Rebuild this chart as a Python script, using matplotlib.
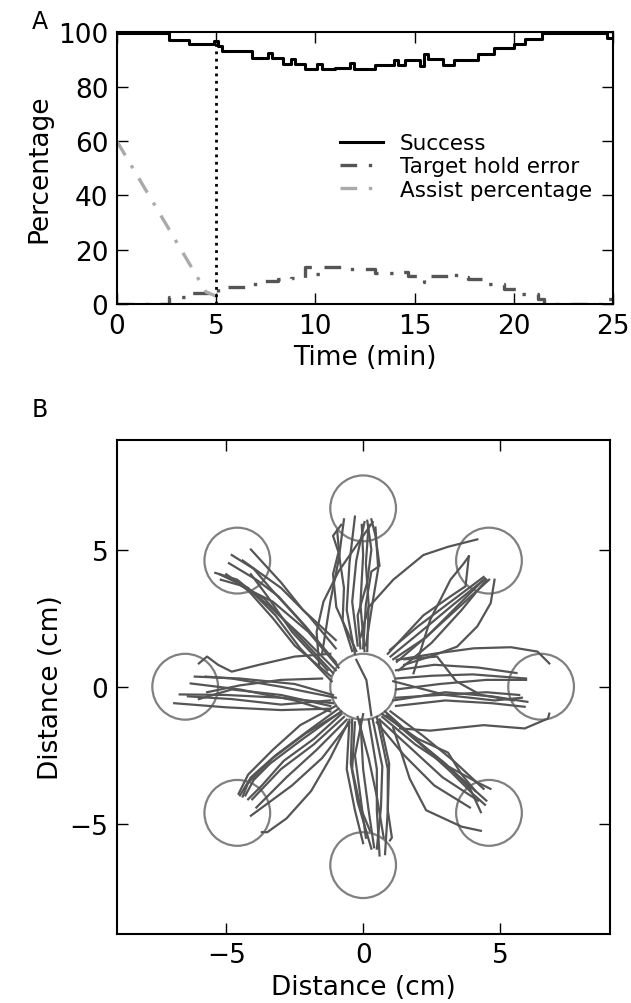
import matplotlib
matplotlib.use('Agg')
import matplotlib.pyplot as plt
from matplotlib.patches import Circle
import numpy as np

# ---- panel A data ----
success_t = [0, 2.65, 3.66, 4.9, 5.1, 5.3, 6.8, 7.6, 7.8, 8.35, 8.75, 8.95,
             9.5, 10.1, 10.35, 11.0, 11.75, 11.95, 13.0, 13.95, 14.15, 14.5,
             15.25, 15.45, 15.65, 16.4, 17.0, 18.2, 19.0, 20.0, 20.55, 21.4,
             24.7, 25]
success_v = [99.5, 97.0, 95.5, 96.6, 94.8, 93.2, 90.4, 92.3, 90.4, 88.3, 90.0,
             88.3, 86.3, 88.3, 86.3, 86.9, 88.7, 86.5, 88.1, 89.8, 88.1, 89.6,
             87.7, 92.0, 90.2, 88.1, 89.8, 92.0, 94.2, 95.7, 97.5, 99.5,
             97.8, 97.8]

hold_t = [0, 2.65, 3.66, 4.9, 5.1, 6.5, 7.33, 8.1, 8.75, 9.47, 9.98, 10.4,
          11.4, 13.0, 14.05, 14.66, 15.47, 15.68, 16.7, 17.1, 17.7, 18.5,
          19.5, 20.36, 21.2, 21.5, 24.6, 25]
hold_v = [0, 2.7, 4.3, 3.7, 6.5, 7.4, 8.6, 9.2, 9.8, 13.5, 11.0, 13.5, 12.9,
          11.4, 11.7, 10.4, 8.0, 10.2, 11.4, 10.0, 9.4, 7.4, 5.5, 3.7, 1.8,
          0.0, 2.0, 2.0]

assist_t = [0, 4.5, 5.0]
assist_v = [60, 4.5, 3.0]

# ---- panel B data: cursor trajectories (cm) ----
traj_up = [
    [(-0.25, 1.3), (-0.98, 2.9), (-1.1, 4.1), (-0.9, 4.9), (-1.1, 5.5), (-0.8, 5.9)],
    [(-0.3, 1.2), (-0.6, 2.8), (-0.5, 4.5), (-0.3, 6.2)],
    [(0.0, 1.4), (0.1, 3.0), (0.3, 4.2), (0.6, 4.4), (0.45, 5.5), (0.3, 6.1)],
    [(0.05, 1.3), (-0.1, 3.0), (0.0, 4.8), (-0.05, 5.9)],
    [(0.1, 1.5), (0.35, 3.1), (0.55, 4.3), (0.45, 5.8)],
    [(-0.2, 1.5), (-0.4, 3.1), (-0.25, 4.6), (0.05, 6.0)],
    [(-1.6, 0.7), (-1.7, 2.0), (-1.45, 3.1), (-0.9, 4.2), (0.0, 5.5), (0.35, 6.0)],
    [(-1.5, 1.2), (-1.2, 3.1), (-0.9, 4.6), (-0.7, 6.1)],
    [(0.15, 1.3), (0.2, 3.0), (0.1, 4.5), (0.2, 5.9)],
    [(-0.1, 1.4), (-0.2, 2.6), (0.15, 3.8), (0.3, 5.0), (0.15, 6.05)],
    [(-0.4, 1.3), (-0.75, 2.4), (-0.7, 3.6), (-0.85, 4.6), (-0.95, 5.7)],
]
traj_upleft = [
    [(-1.0, 0.6), (-2.2, 1.8), (-3.5, 3.0), (-4.6, 3.9), (-5.4, 4.15)],
    [(-1.1, 0.5), (-2.4, 1.9), (-3.6, 3.2), (-4.5, 3.7), (-5.2, 3.9)],
    [(-0.9, 0.7), (-2.0, 2.0), (-3.3, 3.1), (-4.3, 3.6), (-5.0, 4.1)],
    [(-1.0, 0.9), (-2.3, 2.4), (-3.4, 3.6), (-4.0, 4.3), (-4.8, 4.8)],
    [(-1.0, 1.4), (-2.0, 2.6), (-3.0, 3.6), (-4.4, 4.6)],
    [(-1.0, 1.7), (-2.2, 2.8), (-3.0, 3.8), (-4.1, 5.0)],
    [(-1.2, 0.4), (-2.5, 1.5), (-3.3, 2.5), (-4.1, 3.4), (-4.65, 3.9)],
    [(-1.3, 0.6), (-2.6, 2.0), (-3.5, 3.3), (-4.1, 4.1)],
    [(-1.15, 0.2), (-2.3, 1.4), (-3.2, 2.6), (-4.2, 3.6), (-5.25, 4.1)],
    [(-0.95, 0.8), (-2.1, 2.2), (-3.1, 3.3), (-3.9, 3.9), (-4.9, 4.5)],
]
traj_left = [
    [(-1.2, -0.8), (-3.0, -0.85), (-5.0, -0.75), (-6.9, -0.6)],
    [(-1.1, -0.6), (-3.0, -0.4), (-5.0, -0.3), (-6.7, -0.28)],
    [(-1.2, -0.9), (-2.5, -0.5), (-4.5, -0.1), (-6.3, 0.12)],
    [(-1.1, -0.3), (-2.5, 0.1), (-4.5, 0.3), (-6.15, 0.37)],
    [(-1.2, 1.2), (-2.5, 1.1), (-3.8, 0.8), (-4.8, 0.55), (-5.3, 0.8),
     (-5.7, 1.1), (-6.0, 0.85)],
    [(-1.0, -0.4), (-3.0, 0.0), (-4.8, 0.3), (-5.75, 0.37)],
    [(-1.2, -0.7), (-3.0, -0.3), (-4.8, -0.1), (-6.0, -0.45)],
    [(-1.5, 0.3), (-3.0, 0.25), (-4.5, 0.05), (-5.7, -0.2)],
    [(-1.2, -0.5), (-3.0, -0.65), (-4.8, -0.45), (-6.4, -0.35)],
]
traj_downleft = [
    [(-0.9, -0.8), (-2.0, -1.6), (-3.2, -2.5), (-4.1, -3.3), (-4.5, -3.96)],
    [(-0.8, -0.9), (-2.2, -1.9), (-3.4, -2.8), (-4.0, -3.4), (-4.3, -3.96)],
    [(-0.7, -1.1), (-1.8, -2.1), (-3.0, -3.0), (-4.05, -4.1)],
    [(-0.6, -1.2), (-1.7, -2.3), (-2.8, -3.3), (-3.9, -4.4)],
    [(-0.5, -1.3), (-1.5, -2.6), (-2.6, -3.6), (-4.1, -4.7)],
    [(-0.55, -1.3), (-1.2, -2.6), (-1.9, -3.8), (-2.8, -4.8), (-3.5, -5.3), (-3.7, -5.3)],
    [(-1.0, -0.7), (-2.3, -1.4), (-3.3, -2.3), (-4.2, -3.2), (-4.55, -3.9)],
    [(-0.8, -1.0), (-1.8, -1.9), (-2.9, -2.7), (-3.7, -3.6), (-4.2, -4.1)],
    [(-0.85, -0.95), (-2.1, -1.7), (-3.3, -2.6), (-4.2, -3.5), (-4.4, -4.0)],
]
traj_down = [
    [(-0.5, -1.2), (-0.6, -3.0), (-0.3, -4.5), (0.0, -5.7)],
    [(-0.3, -1.3), (-0.4, -3.0), (-0.1, -4.4), (0.25, -5.25)],
    [(-0.1, -1.2), (0.0, -3.0), (0.2, -4.5), (0.4, -5.85)],
    [(0.2, -1.2), (0.5, -3.0), (0.5, -4.5), (0.6, -6.15)],
    [(0.5, -1.1), (0.9, -3.0), (0.9, -4.5), (0.8, -6.1)],
    [(0.6, -1.2), (0.95, -2.8), (0.9, -4.5), (1.05, -5.5), (0.98, -5.6)],
    [(-0.2, -1.1), (0.2, -2.6), (0.5, -4.0), (0.75, -5.5)],
    [(0.0, -1.0), (-0.3, -2.5), (-0.1, -4.0), (0.1, -5.5)],
    [(-0.25, 0.98), (0.12, 0.24), (0.3, -1.04)],
    [(-0.4, -1.2), (-0.45, -2.8), (-0.2, -4.2), (0.3, -5.9)],
    [(0.35, -1.2), (0.7, -2.9), (0.65, -4.4), (0.5, -5.9)],
]
traj_downright = [
    [(0.9, -1.0), (1.9, -1.9), (3.0, -2.8), (3.9, -3.7), (4.3, -4.57)],
    [(0.8, -0.9), (2.0, -2.0), (3.2, -3.0), (4.5, -4.15)],
    [(0.7, -1.1), (1.9, -2.1), (3.1, -2.9), (4.2, -3.5), (4.65, -3.72)],
    [(1.0, -0.9), (2.2, -1.8), (3.3, -2.7), (4.4, -3.72)],
    [(0.6, -1.2), (1.7, -2.2), (2.9, -3.3), (4.2, -4.15)],
    [(1.1, -1.5), (1.7, -3.35), (2.3, -4.5), (3.6, -5.1), (4.3, -5.25)],
    [(0.7, -1.0), (2.0, -1.9), (3.1, -2.4), (3.6, -3.2), (4.1, -3.8)],
    [(0.5, -1.3), (1.5, -2.5), (2.6, -3.6), (3.9, -4.4)],
    [(0.85, -1.05), (2.1, -2.1), (3.2, -3.1), (4.0, -3.9), (4.45, -4.3)],
]
traj_right = [
    [(1.2, 0.3), (2.5, 0.4), (4.0, 0.45), (5.95, 0.3)],
    [(1.2, -0.1), (2.8, 0.1), (4.5, 0.25), (5.95, 0.25)],
    [(1.2, -0.4), (2.8, -0.3), (4.5, -0.2), (5.7, -0.3)],
    [(1.1, -0.5), (3.0, -0.2), (4.7, -0.35), (6.0, -0.55)],
    [(1.2, -0.7), (3.0, -0.5), (4.7, -0.6), (5.9, -0.73)],
    [(1.23, 0.98), (2.7, 1.22), (4.04, 1.4), (5.4, 1.44), (6.37, 1.28), (6.8, 0.85)],
    [(1.35, -1.52), (2.45, -1.6), (4.4, -1.4), (5.9, -1.52), (6.75, -1.16), (6.8, -0.98)],
    [(1.5, 1.0), (2.7, 1.1), (3.4, 0.2), (4.3, -0.3), (5.5, -0.5)],
    [(1.1, 0.2), (3.0, -0.3), (4.8, -0.5), (5.8, -0.4)],
    [(1.2, 0.6), (2.6, 0.8), (4.2, 0.7), (5.6, 0.5)],
]
traj_upright = [
    [(0.98, 1.34), (2.0, 2.2), (3.2, 3.1), (4.4, 4.0)],
    [(1.23, 0.91), (2.4, 1.9), (3.5, 2.9), (4.6, 3.9)],
    [(1.84, 0.49), (2.45, 2.44), (3.19, 3.9), (3.68, 4.5), (3.86, 4.75)],
    [(1.5, 0.8), (2.45, 1.1), (3.43, 1.46), (4.17, 2.2), (4.66, 3.05), (4.8, 3.9)],
    [(-0.1, 1.8), (0.2, 2.9), (1.1, 3.9), (2.2, 4.8), (3.1, 5.1), (4.17, 5.37)],
    [(1.1, 1.0), (2.3, 1.8), (3.4, 2.9), (4.45, 3.95)],
    [(1.3, 0.6), (2.5, 1.6), (3.6, 2.8), (4.5, 3.9)],
    [(0.9, 1.2), (2.2, 2.6), (3.2, 3.3), (3.74, 3.66), (3.86, 4.75)],
    [(1.0, 1.1), (2.1, 2.0), (3.3, 3.0), (4.35, 3.85)],
]

target_angles = [0, 45, 90, 135, 180, 225, 270, 315]
target_dist = 6.5
target_radius = 1.2

fig = plt.figure(figsize=(6.31, 10.04), dpi=100)
ax1 = fig.add_axes([0.185, 0.696, 0.787, 0.271])
ax2 = fig.add_axes([0.185, 0.069, 0.781, 0.492])

# ---- panel A ----
dashdot = (0, (5, 3.5, 1, 3.5))
ax1.step(success_t, success_v, where='post', color='k', lw=2.2, label='Success')
ax1.step(hold_t, hold_v, where='post', color='#555555', lw=2.4,
         ls=dashdot, label='Target hold error')
ax1.plot(assist_t, assist_v, color='#aaaaaa', lw=2.4,
         ls=dashdot, label='Assist percentage')
ax1.axvline(5, ymax=0.97, color='k', ls=':', lw=2)
ax1.set_xlim(0, 25)
ax1.set_ylim(0, 100)
ax1.set_xticks([0, 5, 10, 15, 20, 25])
ax1.set_yticks([0, 20, 40, 60, 80, 100])
ax1.set_xlabel('Time (min)', fontsize=19)
ax1.set_ylabel('Percentage', fontsize=19)
ax1.legend(loc='upper left', bbox_to_anchor=(0.41, 0.70), frameon=False,
           fontsize=15.5, handlelength=2.0, labelspacing=0.15, handletextpad=0.8)

# ---- panel B ----
for group in [traj_up, traj_upleft, traj_left, traj_downleft, traj_down,
              traj_downright, traj_right, traj_upright]:
    for tr in group:
        xy = np.array(tr)
        ax2.plot(xy[:, 0], xy[:, 1], color='#555555', lw=1.6)

for a in target_angles:
    cx = target_dist * np.cos(np.deg2rad(a))
    cy = target_dist * np.sin(np.deg2rad(a))
    ax2.add_patch(Circle((cx, cy), target_radius, fill=False, ec='#808080', lw=1.6))
ax2.add_patch(Circle((0, 0), target_radius, fill=False, ec='#808080', lw=1.6))

ax2.set_xlim(-9, 9)
ax2.set_ylim(-9, 9)
ax2.set_xticks([-5, 0, 5])
ax2.set_yticks([-5, 0, 5])
ax2.set_xlabel('Distance (cm)', fontsize=19)
ax2.set_ylabel('Distance (cm)', fontsize=19)

for ax in (ax1, ax2):
    ax.tick_params(direction='in', length=8, width=1, top=True, right=True,
                   labelsize=19, pad=6)
    for s in ax.spines.values():
        s.set_linewidth(1.5)

fig.text(0.063, 0.978, 'A', fontsize=17, ha='center', va='center')
fig.text(0.063, 0.592, 'B', fontsize=17, ha='center', va='center')

fig.savefig('out.png', dpi=100)
